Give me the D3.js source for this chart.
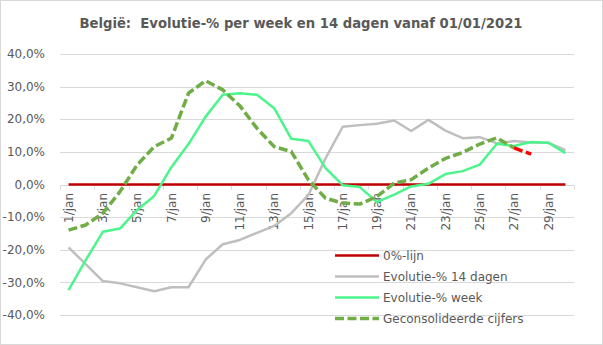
<!DOCTYPE html>
<html><head><meta charset="utf-8">
<script src="https://cdn.jsdelivr.net/npm/d3@7"></script>
<style>body{margin:0;background:#fff}svg{display:block;font-family:"DejaVu Sans",sans-serif}</style>
</head><body><svg id="c" width="603" height="345"></svg>
<script>
const days = d3.range(1, 31).map(d => d + "/jan");
const tickLabels = days.filter((d, i) => i % 2 === 0);
const yTicks = [-0.4, -0.3, -0.2, -0.1, 0, 0.1, 0.2, 0.3, 0.4];
const zeroLine = days.map(() => 0);
const evol14 = [-19.3,-24.4,-29.6,-30.3,-31.5,-32.7,-31.5,-31.5,-23.0,-18.3,-17.0,-14.8,-12.7,-8.8,-3.2,8.0,17.7,18.2,18.6,19.6,16.4,19.8,16.5,14.2,14.5,12.6,13.3,12.9,12.8,10.5];
const evolWeek = [-32.4,-23.2,-14.5,-13.5,-7.8,-3.5,5.3,12.4,20.8,27.5,28.0,27.5,23.4,14.0,13.3,5.0,-0.2,-0.8,-5.4,-3.1,-0.6,0.2,3.2,4.1,6.1,12.5,11.8,13.0,12.8,9.6];
const consolidated = [-14.0,-12.4,-8.8,-2.2,6.0,11.6,14.2,28.0,31.8,29.0,24.1,17.2,11.6,10.1,1.4,-4.2,-5.7,-6.0,-3.7,0.4,1.5,5.0,8.0,9.8,12.4,14.3,11.2,9.3];
const legendNames = ["0%-lijn", "Evolutie-% 14 dagen", "Evolutie-% week", "Geconsolideerde cijfers"];
const title = "België:\u00a0 Evolutie-% per week en 14 dagen vanaf 01/01/2021";

const svg = d3.select("#c");
const W = 603, H = 345;
const m = {l: 60, r: 574, t: 54, b: 315};
svg.append("rect").attr("x", 0.5).attr("y", 0.5).attr("width", W - 1).attr("height", H - 1)
  .attr("fill", "#fff").attr("stroke", "#d9d9d9");

const x = d3.scaleBand().domain(days).range([m.l, m.r]).paddingInner(0).paddingOuter(0);
const cx = d => x(d) + x.bandwidth() / 2;
const y = d3.scaleLinear().domain([-0.4, 0.4]).range([m.b, m.t]);

svg.append("text").attr("x", 301).attr("y", 28).attr("text-anchor", "middle")
  .attr("font-size", "13.2px").attr("font-weight", "bold").attr("fill", "#595959").text(title);

// gridlines
svg.append("g").selectAll("line").data(yTicks).join("line")
  .attr("x1", m.l).attr("x2", m.r).attr("y1", d => Math.round(y(d)) + 0.5).attr("y2", d => Math.round(y(d)) + 0.5)
  .attr("stroke", "#d9d9d9").attr("stroke-width", 1);

// y labels
const fmt = v => d3.format(".1f")(v * 100).replace(".", ",").replace("\u2212", "-") + "%";
svg.append("g").selectAll("text").data(yTicks).join("text")
  .attr("x", 45).attr("y", d => y(d)).attr("dy", "0.35em").attr("text-anchor", "end")
  .attr("font-size", "12px").attr("fill", "#595959").text(fmt);

// x axis line and ticks
const y0 = Math.round(y(0)) + 0.5;
svg.append("line").attr("x1", m.l).attr("x2", m.r).attr("y1", y0).attr("y2", y0).attr("stroke", "#d9d9d9");
const tickPos = tickLabels.map(d => x(d)).concat([m.r]);
svg.append("g").selectAll("line").data(tickPos).join("line")
  .attr("x1", d => Math.round(d) + 0.5).attr("x2", d => Math.round(d) + 0.5)
  .attr("y1", y0).attr("y2", y0 + 4).attr("stroke", "#d9d9d9");
svg.append("g").selectAll("text").data(tickLabels).join("text")
  .attr("transform", d => `translate(${cx(d)},193) rotate(-90)`)
  .attr("dy", "0.35em").attr("text-anchor", "end")
  .attr("font-size", "12px").attr("fill", "#595959").text(d => d);

const line = d3.line().x((v, i) => cx(days[i])).y(v => y(v / 100));

// red zero line
svg.append("path").datum(zeroLine).attr("d", line).attr("fill", "none")
  .attr("stroke", "#c00000").attr("stroke-width", 2.5);
// grey
svg.append("path").datum(evol14).attr("d", line).attr("fill", "none")
  .attr("stroke", "#bfbfbf").attr("stroke-width", 2.5).attr("stroke-linejoin", "round");
// week
svg.append("path").datum(evolWeek).attr("d", line).attr("fill", "none")
  .attr("stroke", "#4cf58c").attr("stroke-width", 2.5).attr("stroke-linejoin", "round");
// consolidated (green up to day 27, last segment red)
const n = consolidated.length;
svg.append("path").datum(consolidated.slice(0, n - 1)).attr("d", line).attr("fill", "none")
  .attr("stroke", "#70ad47").attr("stroke-width", 3.5).attr("stroke-dasharray", "9,3.5").attr("stroke-linejoin", "round");
const lastSeg = d3.line().x((v, i) => cx(days[n - 2 + i])).y(v => y(v / 100));
svg.append("path").datum(consolidated.slice(n - 2)).attr("d", lastSeg).attr("fill", "none")
  .attr("stroke", "#ff0000").attr("stroke-width", 3.5).attr("stroke-dasharray", "9,3.5");

// legend
const legStyles = [
  {c: "#c00000", w: 2.5, d: null},
  {c: "#bfbfbf", w: 2.5, d: null},
  {c: "#4cf58c", w: 2.5, d: null},
  {c: "#70ad47", w: 3.5, d: "9,3.5"}
];
const lg = svg.append("g").selectAll("g").data(legendNames).join("g")
  .attr("transform", (d, i) => `translate(335,${255.5 + i * 21})`);
lg.append("line").attr("x1", 0).attr("x2", 44).attr("y1", 0).attr("y2", 0)
  .attr("stroke", (d, i) => legStyles[i].c).attr("stroke-width", (d, i) => legStyles[i].w)
  .attr("stroke-dasharray", (d, i) => legStyles[i].d);
lg.append("text").attr("x", 48).attr("y", 0).attr("dy", "0.35em")
  .attr("font-size", "12px").attr("fill", "#595959").text(d => d);
</script></body></html>
